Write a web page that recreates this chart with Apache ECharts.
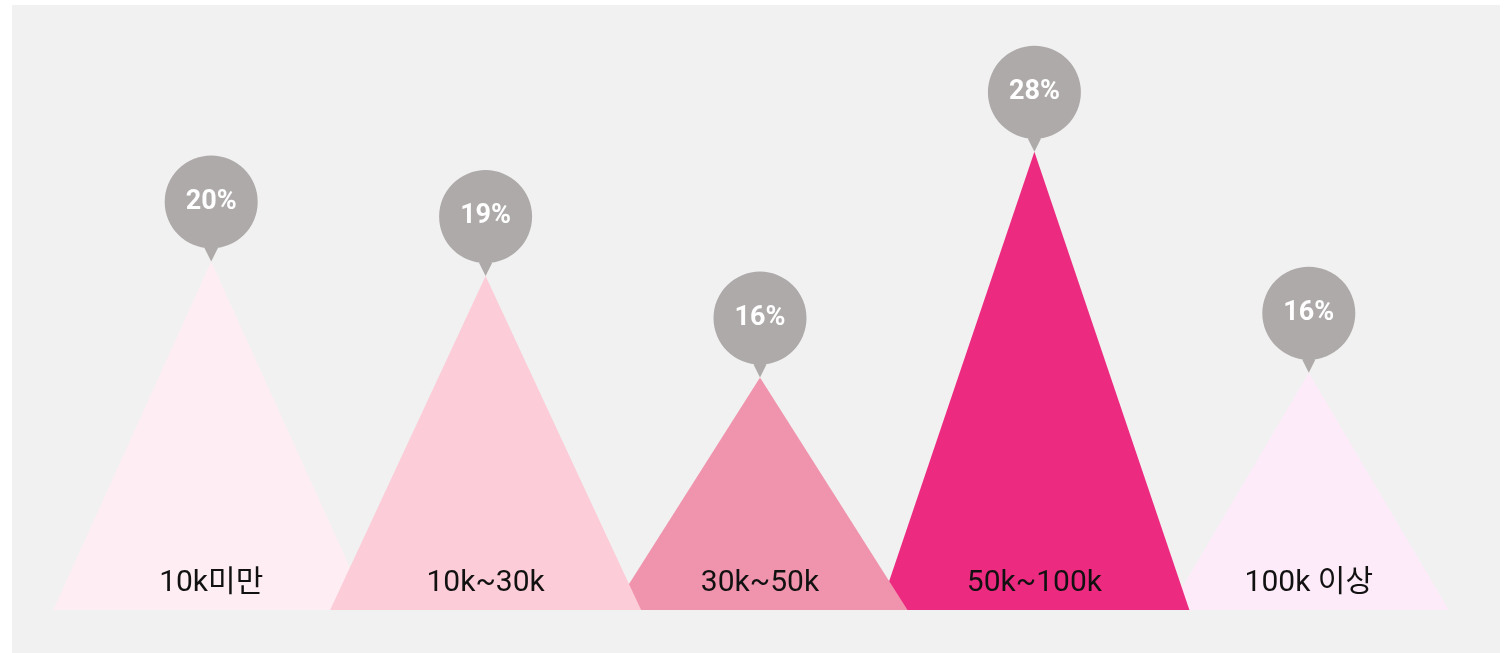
<!DOCTYPE html>
<html><head><meta charset="utf-8">
<script src="https://cdn.jsdelivr.net/npm/echarts/dist/echarts.min.js"></script>
<style>
html,body{margin:0;padding:0;background:#ffffff;width:1511px;height:653px;overflow:hidden}
#chart{position:absolute;left:12px;top:5px;width:1488px;height:648px;background:#f1f1f1}
</style>
</head><body><div id="chart"></div>
<script>
// ---- data ----
const categories = ['10k미만', '10k~30k', '30k~50k', '50k~100k', '100k 이상'];
const shares = [20, 19, 16, 28, 16];          // percentages shown in the pins
const heights = [21.3, 20.4, 14.2, 28, 14.5]; // drawn heights of the peaks
const shareLabels = shares.map(v => v + '%');

// ---- styles ----
const colors = ['#feeef4', '#fccdd8', '#f094ae', '#ec2a80', '#fdebf9'];
const baseWidths = [316, 311, 295, 310, 280];
const layers = [1, 5, 3, 2, 1];
const pinPath = 'path://M0,46.5 A46.5,46.5 0 1,1 93,46.5 A46.5,46.5 0 1,1 0,46.5 Z M55,89 L46.5,106 L38,89 Z';

const chart = echarts.init(document.getElementById('chart'));
chart.setOption({
  animation: false,
  grid: { left: 62, right: 54, top: 114, bottom: 43 },
  xAxis: { type: 'category', data: categories, show: false, boundaryGap: true },
  yAxis: { type: 'value', min: 0, max: 30, show: false, splitLine: { show: false } },
  series: [
    {
      type: 'custom',
      data: heights.map((h, i) => [i, h]),
      encode: { x: 0, y: 1 },
      z: 2,
      renderItem: function (params, api) {
        const i = api.value(0);
        const top = api.coord([i, api.value(1)]);
        const base = api.coord([i, 0]);
        const w = baseWidths[i];
        return {
          type: 'group',
          children: [
            {
              type: 'polygon',
              z2: layers[i],
              shape: { points: [[base[0] - w / 2, base[1]], [top[0], top[1]], [base[0] + w / 2, base[1]]] },
              style: { fill: colors[i] }
            },
            {
              type: 'text',
              z2: 100,
              style: {
                text: categories[i],
                x: base[0],
                y: base[1] - 27,
                align: 'center',
                verticalAlign: 'middle',
                fill: '#111111',
                fontSize: 30,
                fontFamily: 'Roboto, "Noto Sans CJK KR", sans-serif'
              }
            }
          ]
        };
      }
    },
    {
      type: 'scatter',
      data: heights,
      z: 5,
      symbol: pinPath,
      symbolSize: [93, 106],
      symbolOffset: [0, '-50%'],
      itemStyle: { color: '#aeaaa9', opacity: 1, borderWidth: 0 },
      label: {
        show: true,
        position: 'inside',
        offset: [0, -6.5],
        formatter: p => shareLabels[p.dataIndex],
        color: '#ffffff',
        fontSize: 27,
        fontWeight: 'bold',
        fontFamily: 'Roboto, sans-serif'
      },
      emphasis: { disabled: true }
    }
  ]
});
</script>
</body></html>
